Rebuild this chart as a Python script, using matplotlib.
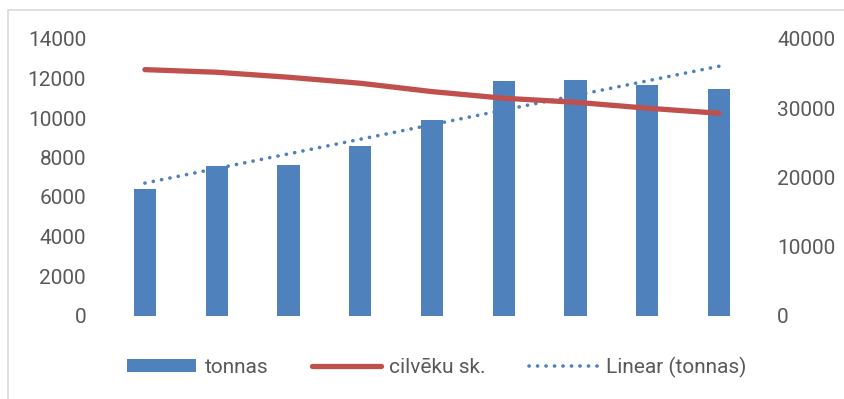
import numpy as np
import matplotlib
matplotlib.use("Agg")
import matplotlib.pyplot as plt
from matplotlib.patches import Rectangle, Patch
from matplotlib.lines import Line2D

categories = ["1", "2", "3", "4", "5", "6", "7", "8", "9"]
tonnas = [6420, 7555, 7620, 8567, 9899, 11873, 11909, 11656, 11468]
cilveku = [35570, 35190, 34470, 33600, 32390, 31430, 30850, 29990, 29260]
left_ticks = [0, 2000, 4000, 6000, 8000, 10000, 12000, 14000]
right_ticks = [0, 10000, 20000, 30000, 40000]

plt.rcParams['font.family'] = ['Roboto', 'DejaVu Sans']
BLUE = "#4F81BD"
RED = "#C0504D"
GRAY = "#595959"
FS = 15

fig = plt.figure(figsize=(8.45, 3.99), dpi=100)
W, H = 845, 399
fig.patches.append(Rectangle((8 / W, -0.1), 1.1, 1 - 10 / H + 0.1, transform=fig.transFigure,
                             fill=False, edgecolor="#D9D9D9", linewidth=1.2))

ax = fig.add_axes([109 / W, 1 - 315.5 / H, (755 - 109) / W, (315.5 - 39) / H])
x = np.arange(len(categories))
ax.bar(x, tonnas, width=0.31, color=BLUE, zorder=2)
coef = np.polyfit(x, tonnas, 1)
trend = np.polyval(coef, x)
DOT = (0, (0.05, 2.3))
ax.plot(x, trend, color=BLUE, linewidth=2.6, linestyle=DOT,
        dash_capstyle='round', zorder=3)
ax.set_xlim(-0.5, len(categories) - 0.5)
ax.set_ylim(0, 14000)
ax.set_yticks(left_ticks)
ax.set_yticklabels([str(t) for t in left_ticks])
ax.set_xticks([])
for s in ax.spines.values():
    s.set_visible(False)
ax.tick_params(axis='y', length=0, pad=16.5, labelsize=FS, labelcolor=GRAY)

ax2 = ax.twinx()
ax2.plot(x, cilveku, color=RED, linewidth=3.8, solid_capstyle='round',
         solid_joinstyle='round', zorder=4)
ax2.set_ylim(0, 40000)
ax2.set_yticks(right_ticks)
ax2.set_yticklabels([str(t) for t in right_ticks])
for s in ax2.spines.values():
    s.set_visible(False)
ax2.tick_params(axis='y', length=0, pad=16, labelsize=FS, labelcolor=GRAY)

handles = [
    Patch(facecolor=BLUE, edgecolor='none'),
    Line2D([], [], color=RED, linewidth=3.8, solid_capstyle='round'),
    Line2D([], [], color=BLUE, linewidth=2.6, linestyle=DOT, dash_capstyle='round'),
]
labels = ["tonnas", "cilvēku sk.", "Linear (tonnas)"]
leg = fig.legend(handles, labels, loc='center', bbox_to_anchor=(437 / W, 1 - 367 / H),
                 ncol=3, frameon=False, fontsize=FS, handlelength=3.3, handleheight=0.65,
                 columnspacing=2.1, handletextpad=0.4, labelcolor=GRAY)

fig.savefig("out.png", dpi=100)
